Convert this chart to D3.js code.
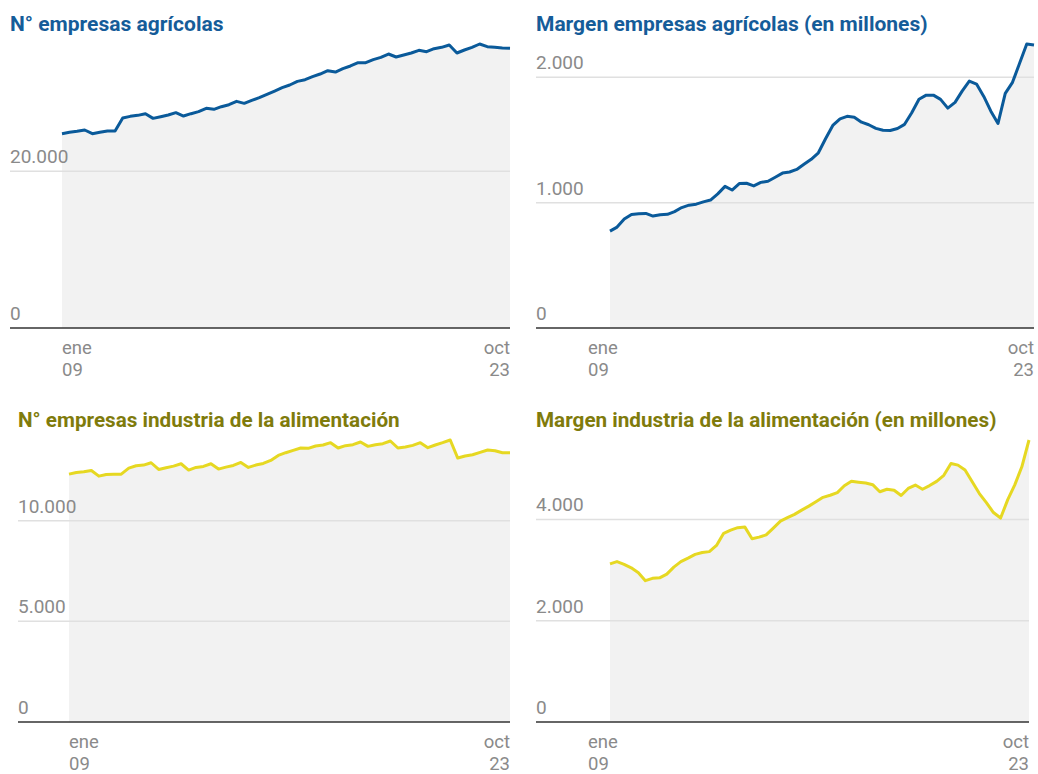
<!DOCTYPE html>
<html>
<head>
<meta charset="utf-8">
<script src="https://cdn.jsdelivr.net/npm/d3@7"></script>
<style>
  body { margin: 0; background: #fff; font-family: Roboto, "Noto Sans", sans-serif; }
  svg { display: block; }
</style>
</head>
<body>
<div id="chart"></div>
<script>
// quarterly series, ene 2009 -> oct 2023
const startDate = new Date(2009, 0, 1);
const endDate = new Date(2023, 9, 1);
const quarters = d3.timeMonth.every(3).range(startDate, d3.timeMonth.offset(endDate, 1));

const agriCount = [
  24812, 24982, 25110, 25281, 24812, 24982, 25153, 25153, 26813, 27025,
  27153, 27366, 26770, 26983, 27196, 27494, 27069, 27366, 27622, 28047,
  27919, 28260, 28515, 28941, 28685, 29069, 29409, 29834, 30261, 30686,
  31027, 31495, 31708, 32091, 32432, 32857, 32687, 33113, 33454, 33879,
  33879, 34262, 34559, 34986, 34603, 34858, 35114, 35453, 35284, 35667,
  35836, 36135, 35114, 35497, 35836, 36263, 35922, 35836, 35752, 35709
];
const agriMargin = [
  773, 805, 869, 906, 912, 914, 893, 904, 907, 929,
  961, 980, 988, 1006, 1021, 1070, 1130, 1101, 1152, 1155,
  1134, 1162, 1171, 1203, 1236, 1245, 1265, 1306, 1346, 1398,
  1510, 1616, 1669, 1689, 1682, 1642, 1622, 1593, 1578, 1576,
  1592, 1625, 1718, 1825, 1858, 1858, 1824, 1754, 1800, 1890,
  1970, 1946, 1848, 1730, 1632, 1872, 1960, 2112, 2266, 2258
];
const foodCount = [
  12311, 12394, 12428, 12494, 12212, 12294, 12311, 12311, 12611, 12727,
  12760, 12876, 12544, 12627, 12710, 12826, 12511, 12644, 12693, 12826,
  12561, 12660, 12743, 12893, 12644, 12760, 12843, 12992, 13242, 13375,
  13491, 13608, 13591, 13707, 13757, 13873, 13608, 13724, 13774, 13907,
  13690, 13774, 13823, 13956, 13608, 13657, 13740, 13873, 13624, 13757,
  13873, 14006, 13109, 13209, 13275, 13391, 13508, 13475, 13375, 13375
];
const foodMargin = [
  3121, 3167, 3114, 3045, 2949, 2790, 2837, 2846, 2919, 3057,
  3166, 3235, 3309, 3348, 3364, 3487, 3725, 3787, 3837, 3848,
  3617, 3650, 3694, 3829, 3967, 4034, 4100, 4184, 4262, 4349,
  4436, 4477, 4528, 4664, 4754, 4736, 4719, 4686, 4546, 4596,
  4576, 4472, 4611, 4678, 4596, 4668, 4751, 4870, 5105, 5072,
  4976, 4744, 4510, 4330, 4136, 4027, 4391, 4682, 5039, 5568
];

const titles = [
  "N° empresas agrícolas",
  "Margen empresas agrícolas (en millones)",
  "N° empresas industria de la alimentación",
  "Margen industria de la alimentación (en millones)"
];
const yTicks = [[0, 20000], [0, 1000, 2000], [0, 5000, 10000], [0, 2000, 4000]];
const xLabels = [["ene", "09"], ["oct", "23"]];

const blue = { title: "#155c99", line: "#0a5a9a" };
const yellow = { title: "#7f7b0c", line: "#e6d822" };

const panels = [
  { title: titles[0], values: agriCount, ticks: yTicks[0], c: blue,   left: 10,  x0: 62,  x1: 510,  top: 44,  base: 328, shift: 0,   fs: 21 },
  { title: titles[1], values: agriMargin, ticks: yTicks[1], c: blue,  left: 536, x0: 610, x1: 1034, top: 44,  base: 328, shift: -22, fs: 21 },
  { title: titles[2], values: foodCount, ticks: yTicks[2], c: yellow, left: 18,  x0: 69,  x1: 510,  top: 440, base: 722, shift: 0,   fs: 20.7 },
  { title: titles[3], values: foodMargin, ticks: yTicks[3], c: yellow, left: 536, x0: 610, x1: 1029, top: 440, base: 722, shift: -22, fs: 20.7 }
];

const fmt = d3.formatLocale({ decimal: ",", thousands: ".", grouping: [3], currency: ["", "€"] }).format(",");

const svg = d3.select("#chart").append("svg")
  .attr("width", 1038)
  .attr("height", 774);

panels.forEach(p => {
  const data = quarters.map((d, i) => ({ date: d, value: p.values[i] }));
  const x = d3.scaleTime().domain(d3.extent(quarters)).range([p.x0, p.x1]);
  const y = d3.scaleLinear().domain([0, d3.max(p.values)]).range([p.base, p.top]);
  const g = svg.append("g");

  // title
  g.append("text")
    .attr("x", p.left)
    .attr("y", p.top - 13)
    .attr("fill", p.c.title)
    .style("font-size", p.fs + "px")
    .style("font-weight", 700)
    .text(p.title);

  // shaded area under the line
  g.append("path")
    .datum(data)
    .attr("fill", "#f2f2f2")
    .attr("d", d3.area().x(d => x(d.date)).y0(y(0)).y1(d => y(d.value)));

  // gridlines + labels
  p.ticks.forEach(t => {
    if (t > 0) {
      g.append("line")
        .attr("x1", p.left).attr("x2", p.x1)
        .attr("y1", y(t)).attr("y2", y(t))
        .attr("stroke", "#e0e0e0")
        .attr("stroke-width", 1.5);
    }
    g.append("text")
      .attr("x", p.left)
      .attr("y", y(t) - 8)
      .attr("fill", "#8a8a8a")
      .style("font-size", "19px")
      .text(fmt(t));
  });

  // baseline
  g.append("line")
    .attr("x1", p.left).attr("x2", p.x1)
    .attr("y1", y(0)).attr("y2", y(0))
    .attr("stroke", "#333")
    .attr("stroke-width", 1.5);

  // line
  g.append("path")
    .datum(data)
    .attr("fill", "none")
    .attr("stroke", p.c.line)
    .attr("stroke-width", 3)
    .attr("stroke-linejoin", "round")
    .attr("d", d3.line().x(d => x(d.date)).y(d => y(d.value)));

  // x labels (first / last)
  const ends = [quarters[0], quarters[quarters.length - 1]];
  ends.forEach((d, k) => {
    const lx = k === 0 ? x(d) + p.shift : x(d);
    const tx = g.append("text")
      .attr("text-anchor", k === 0 ? "start" : "end")
      .attr("fill", "#8a8a8a")
      .style("font-size", "18.5px");
    xLabels[k].forEach((s, j) => {
      tx.append("tspan")
        .attr("x", lx)
        .attr("y", y(0) + 25.5 + j * 22)
        .text(s);
    });
  });
});
</script>
</body>
</html>
